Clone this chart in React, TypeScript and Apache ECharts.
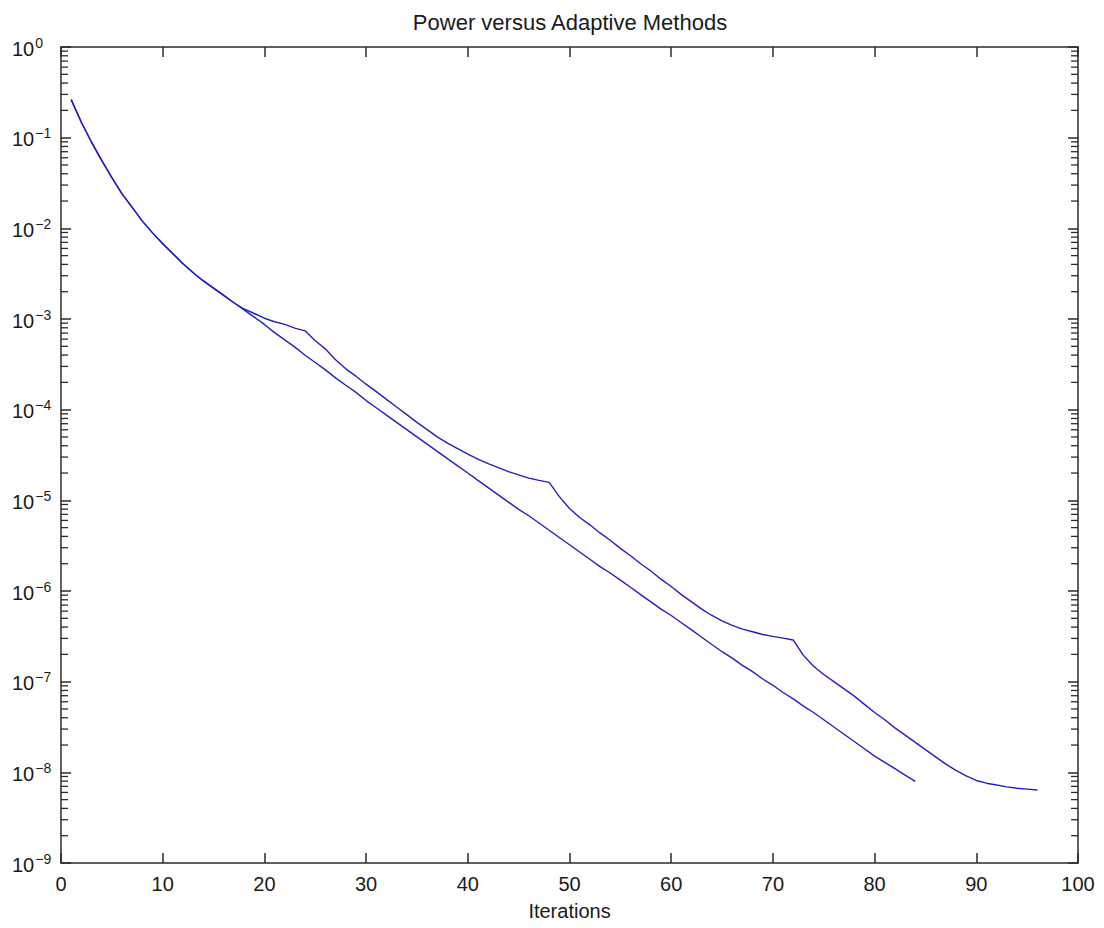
import React, { useEffect, useRef } from "react";
import * as echarts from "echarts";

const titleText = "Power versus Adaptive Methods";
const xAxisName = "Iterations";
const xTicks = [0, 10, 20, 30, 40, 50, 60, 70, 80, 90, 100];

// Power method residual, iterations 1..84
const powerErr = [
  2.63e-1, 1.48e-1, 8.91e-2, 5.62e-2, 3.63e-2, 2.40e-2, 1.70e-2, 1.20e-2, 8.91e-3, 6.76e-3,
  5.25e-3, 4.07e-3, 3.24e-3, 2.63e-3, 2.19e-3, 1.82e-3, 1.51e-3, 1.26e-3, 1.05e-3, 8.71e-4,
  7.08e-4, 5.89e-4, 4.90e-4, 3.98e-4, 3.31e-4, 2.75e-4, 2.24e-4, 1.86e-4, 1.55e-4, 1.26e-4,
  1.05e-4, 8.71e-5, 7.24e-5, 6.03e-5, 5.01e-5, 4.17e-5, 3.47e-5, 2.88e-5, 2.40e-5, 2.00e-5,
  1.66e-5, 1.38e-5, 1.15e-5, 9.55e-6, 7.94e-6, 6.76e-6, 5.62e-6, 4.68e-6, 3.89e-6, 3.24e-6,
  2.69e-6, 2.24e-6, 1.86e-6, 1.58e-6, 1.32e-6, 1.10e-6, 9.12e-7, 7.59e-7, 6.31e-7, 5.37e-7,
  4.47e-7, 3.72e-7, 3.09e-7, 2.57e-7, 2.14e-7, 1.82e-7, 1.51e-7, 1.29e-7, 1.07e-7, 9.12e-8,
  7.59e-8, 6.46e-8, 5.37e-8, 4.57e-8, 3.80e-8, 3.16e-8, 2.63e-8, 2.19e-8, 1.82e-8, 1.51e-8,
  1.29e-8, 1.10e-8, 9.33e-9, 7.94e-9,
];

// Adaptive method residual, iterations 1..96
const adaptiveErr = [
  2.63e-1, 1.48e-1, 8.91e-2, 5.62e-2, 3.63e-2, 2.40e-2, 1.70e-2, 1.20e-2, 8.91e-3, 6.76e-3,
  5.25e-3, 4.07e-3, 3.24e-3, 2.63e-3, 2.19e-3, 1.82e-3, 1.51e-3, 1.29e-3, 1.15e-3, 1.02e-3,
  9.33e-4, 8.71e-4, 7.94e-4, 7.41e-4, 5.75e-4, 4.68e-4, 3.55e-4, 2.82e-4, 2.34e-4, 1.91e-4,
  1.58e-4, 1.30e-4, 1.07e-4, 8.81e-5, 7.24e-5, 6.03e-5, 5.01e-5, 4.27e-5, 3.72e-5, 3.24e-5,
  2.85e-5, 2.54e-5, 2.29e-5, 2.07e-5, 1.91e-5, 1.76e-5, 1.66e-5, 1.58e-5, 1.10e-5, 8.13e-6,
  6.46e-6, 5.37e-6, 4.37e-6, 3.63e-6, 2.95e-6, 2.45e-6, 2.00e-6, 1.66e-6, 1.35e-6, 1.12e-6,
  9.12e-7, 7.59e-7, 6.31e-7, 5.37e-7, 4.68e-7, 4.17e-7, 3.80e-7, 3.55e-7, 3.31e-7, 3.16e-7,
  3.02e-7, 2.88e-7, 1.95e-7, 1.48e-7, 1.20e-7, 1.00e-7, 8.32e-8, 6.92e-8, 5.62e-8, 4.57e-8,
  3.80e-8, 3.09e-8, 2.57e-8, 2.14e-8, 1.78e-8, 1.48e-8, 1.23e-8, 1.05e-8, 9.12e-9, 8.13e-9,
  7.59e-9, 7.24e-9, 6.92e-9, 6.68e-9, 6.53e-9, 6.38e-9,
];

const yMin = 1e-9;
const yMax = 1;
const decadeExponents = [-9, -8, -7, -6, -5, -4, -3, -2, -1];
const minorMultipliers = [2, 3, 4, 5, 6, 7, 8, 9];

const FONT = "'Liberation Sans', Arial, Helvetica, sans-serif";
const AXIS_COLOR = "#2b2b2b";
const LINE_COLOR = "#2020c0";
const TEXT_COLOR = "#1a1a1a";

export default function App() {
  const ref = useRef<HTMLDivElement>(null);

  useEffect(() => {
    if (!ref.current) return;
    const chart = echarts.init(ref.current, undefined, { renderer: "svg" });

    const minorTicks: number[][] = [];
    decadeExponents.forEach((e) => {
      minorMultipliers.forEach((m) => {
        minorTicks.push([0, Number((m * Math.pow(10, e)).toPrecision(3))]);
      });
    });

    const expLabel = (v: number) => {
      const e = Math.round(Math.log10(v));
      const s = e < 0 ? "\u2212" + Math.abs(e) : String(e);
      return "{b|10}{s|" + s + "}";
    };

    const option: any = {
      animation: false,
      backgroundColor: "#ffffff",
      title: {
        text: titleText,
        left: 565,
        top: 6,
        textAlign: "center",
        textStyle: { fontFamily: FONT, fontSize: 22, fontWeight: "normal", color: TEXT_COLOR },
      },
      grid: { left: 61, right: 26, top: 47, bottom: 65, containLabel: false },
      xAxis: [
        {
          type: "value",
          position: "bottom",
          min: 0,
          max: 100,
          interval: 10,
          name: xAxisName,
          nameLocation: "middle",
          nameGap: 38,
          nameTextStyle: { fontFamily: FONT, fontSize: 20, color: TEXT_COLOR },
          axisLine: { show: true, onZero: false, lineStyle: { color: AXIS_COLOR, width: 1.5 } },
          axisTick: { show: true, inside: true, length: 10, lineStyle: { color: AXIS_COLOR, width: 1.5 } },
          axisLabel: {
            show: true,
            margin: 11,
            fontFamily: FONT,
            fontSize: 20,
            color: TEXT_COLOR,
            formatter: (v: number) => (xTicks.includes(v) ? String(v) : ""),
          },
          splitLine: { show: false },
        },
        {
          type: "value",
          position: "top",
          min: 0,
          max: 100,
          interval: 10,
          axisLine: { show: true, onZero: false, lineStyle: { color: AXIS_COLOR, width: 1.5 } },
          axisTick: { show: true, inside: true, length: 10, lineStyle: { color: AXIS_COLOR, width: 1.5 } },
          axisLabel: { show: false },
          splitLine: { show: false },
        },
      ],
      yAxis: [
        {
          type: "log",
          logBase: 10,
          position: "left",
          min: yMin,
          max: yMax,
          interval: 1,
          axisLine: { show: true, onZero: false, lineStyle: { color: AXIS_COLOR, width: 1.5 } },
          axisTick: { show: true, inside: true, length: 10, lineStyle: { color: AXIS_COLOR, width: 1.5 } },
          axisLabel: {
            show: true,
            align: "left",
            margin: 49,
            fontFamily: FONT,
            color: TEXT_COLOR,
            formatter: expLabel,
            rich: {
              b: { fontFamily: FONT, fontSize: 20, color: TEXT_COLOR, verticalAlign: "bottom" },
              s: { fontFamily: FONT, fontSize: 14, color: TEXT_COLOR, verticalAlign: "bottom", padding: [0, 0, 9, 1] },
            },
          },
          splitLine: { show: false },
          minorTick: { show: false },
        },
        {
          type: "log",
          logBase: 10,
          position: "right",
          min: yMin,
          max: yMax,
          interval: 1,
          axisLine: { show: true, onZero: false, lineStyle: { color: AXIS_COLOR, width: 1.5 } },
          axisTick: { show: true, inside: true, length: 10, lineStyle: { color: AXIS_COLOR, width: 1.5 } },
          axisLabel: { show: false },
          splitLine: { show: false },
        },
      ],
      series: [
        {
          type: "custom",
          name: "minorTicks",
          xAxisIndex: 0,
          yAxisIndex: 0,
          silent: true,
          clip: false,
          data: minorTicks,
          renderItem: (params: any, api: any) => {
            const v = api.value(1);
            const l = api.coord([0, v]);
            const r = api.coord([100, v]);
            const st = { stroke: AXIS_COLOR, lineWidth: 1.3 };
            return {
              type: "group",
              children: [
                { type: "line", shape: { x1: l[0], y1: l[1], x2: l[0] + 7, y2: l[1] }, style: st },
                { type: "line", shape: { x1: r[0] - 7, y1: r[1], x2: r[0], y2: r[1] }, style: st },
              ],
            };
          },
        },
        {
          type: "line",
          name: "Power",
          xAxisIndex: 0,
          yAxisIndex: 0,
          showSymbol: false,
          symbol: "none",
          data: powerErr.map((v, i) => [i + 1, v]),
          lineStyle: { color: LINE_COLOR, width: 1.4 },
          itemStyle: { color: LINE_COLOR },
        },
        {
          type: "line",
          name: "Adaptive",
          xAxisIndex: 0,
          yAxisIndex: 0,
          showSymbol: false,
          symbol: "none",
          data: adaptiveErr.map((v, i) => [i + 1, v]),
          lineStyle: { color: LINE_COLOR, width: 1.4 },
          itemStyle: { color: LINE_COLOR },
        },
      ],
    };

    chart.setOption(option);
    return () => chart.dispose();
  }, []);

  return (
    <div
      ref={ref}
      style={{ position: "fixed", left: 0, top: 0, width: 1104, height: 928, background: "#fff" }}
    />
  );
}
